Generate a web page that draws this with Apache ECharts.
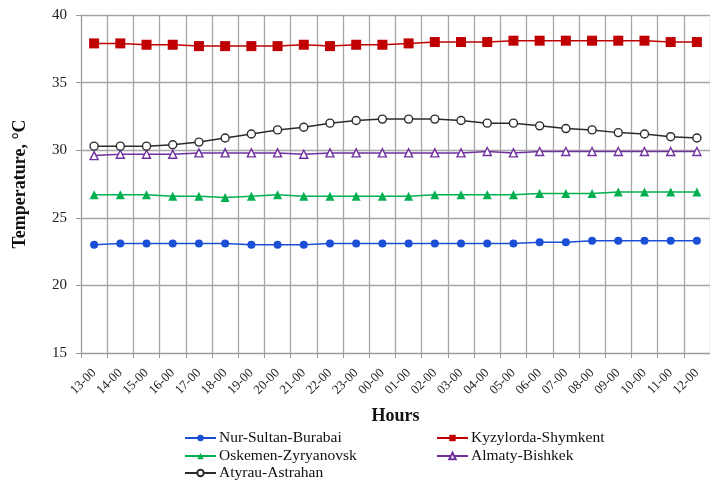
<!DOCTYPE html>
<html>
<head>
<meta charset="utf-8">
<script src="https://cdn.jsdelivr.net/npm/echarts@6/dist/echarts.min.js"></script>
<style>
  html, body { margin: 0; padding: 0; background: #fff; }
  #chart { width: 710px; height: 481px; }
</style>
</head>
<body>
<div id="chart"></div>
<script>
// Hourly temperature along five routes
var hours = ['13-00','14-00','15-00','16-00','17-00','18-00','19-00','20-00','21-00','22-00','23-00','00-00',
             '01-00','02-00','03-00','04-00','05-00','06-00','07-00','08-00','09-00','10-00','11-00','12-00'];

var nurSultan = [23.0, 23.1, 23.1, 23.1, 23.1, 23.1, 23.0, 23.0, 23.0, 23.1, 23.1, 23.1,
                 23.1, 23.1, 23.1, 23.1, 23.1, 23.2, 23.2, 23.3, 23.3, 23.3, 23.3, 23.3];
var kyzylorda = [37.9, 37.9, 37.8, 37.8, 37.7, 37.7, 37.7, 37.7, 37.8, 37.7, 37.8, 37.8,
                 37.9, 38.0, 38.0, 38.0, 38.1, 38.1, 38.1, 38.1, 38.1, 38.1, 38.0, 38.0];
var oskemen = [26.7, 26.7, 26.7, 26.6, 26.6, 26.5, 26.6, 26.7, 26.6, 26.6, 26.6, 26.6,
               26.6, 26.7, 26.7, 26.7, 26.7, 26.8, 26.8, 26.8, 26.9, 26.9, 26.9, 26.9];
var almaty = [29.6, 29.7, 29.7, 29.7, 29.8, 29.8, 29.8, 29.8, 29.7, 29.8, 29.8, 29.8,
              29.8, 29.8, 29.8, 29.9, 29.8, 29.9, 29.9, 29.9, 29.9, 29.9, 29.9, 29.9];
var atyrau = [30.3, 30.3, 30.3, 30.4, 30.6, 30.9, 31.2, 31.5, 31.7, 32.0, 32.2, 32.3,
              32.3, 32.3, 32.2, 32.0, 32.0, 31.8, 31.6, 31.5, 31.3, 31.2, 31.0, 30.9];

var yMin = 15, yMax = 40, yStep = 5;

var FONT = '"Liberation Serif", "Times New Roman", serif';

// One line series; a fill colour gives a hollow marker outlined in the line colour
function line(name, data, color, symbol, size, fill) {
  return {
    name: name,
    type: 'line',
    data: data,
    symbol: symbol,
    symbolSize: size,
    showAllSymbol: true,
    lineStyle: { color: color, width: 1.5 },
    itemStyle: { color: fill || color, borderColor: color, borderWidth: fill ? 1.4 : 0 },
    emphasis: { disabled: true },
    animation: false
  };
}

// Legend laid out as two columns, one single-entry legend per slot
function legendItem(name, left, top) {
  return {
    data: [name], left: left, top: top, padding: 0,
    itemWidth: 31, itemHeight: 8,
    textStyle: { fontFamily: FONT, fontSize: 15.5, color: '#111', padding: [0, 0, 0, -2] }
  };
}

var chart = echarts.init(document.getElementById('chart'), null, { renderer: 'canvas' });
chart.setOption({
  backgroundColor: '#ffffff',
  animation: false,
  textStyle: { fontFamily: FONT },
  grid: { left: 81, top: 15, width: 640, height: 338, containLabel: false },
  xAxis: {
    type: 'category',
    data: hours,
    boundaryGap: true,
    name: 'Hours',
    nameLocation: 'middle',
    nameGap: 54,
    nameTextStyle: { fontFamily: FONT, fontSize: 18, fontWeight: 'bold', color: '#111' },
    axisLine: { lineStyle: { color: '#9a9a9a', width: 1 } },
    axisTick: { show: true, length: 5, interval: 0, lineStyle: { color: '#9a9a9a' } },
    axisLabel: { interval: 0, rotate: 45, fontFamily: FONT, fontSize: 13, color: '#222', margin: 18 },
    splitLine: { show: true, interval: 0, lineStyle: { color: '#a6a6a6', width: 1.3 } }
  },
  yAxis: {
    type: 'value',
    min: yMin, max: yMax, interval: yStep,
    name: 'Temperature, °C',
    nameLocation: 'middle',
    nameGap: 52,
    nameTextStyle: { fontFamily: FONT, fontSize: 18, fontWeight: 'bold', color: '#111' },
    axisLine: { show: true, lineStyle: { color: '#9a9a9a', width: 1 } },
    axisTick: { show: true, length: 5, lineStyle: { color: '#9a9a9a' } },
    axisLabel: { fontFamily: FONT, fontSize: 15, color: '#222', margin: 14 },
    splitLine: { show: true, lineStyle: { color: '#a6a6a6', width: 1.3 } }
  },
  legend: [
    legendItem('Nur-Sultan-Burabai', 184, 430),
    legendItem('Kyzylorda-Shymkent', 436, 430),
    legendItem('Oskemen-Zyryanovsk', 184, 448),
    legendItem('Almaty-Bishkek', 436, 448),
    legendItem('Atyrau-Astrahan', 184, 465)
  ],
  series: [
    line('Nur-Sultan-Burabai', nurSultan, '#1a4fd6', 'circle', 8),
    line('Kyzylorda-Shymkent', kyzylorda, '#c00000', 'rect', 10),
    line('Oskemen-Zyryanovsk', oskemen, '#00b050', 'triangle', 9),
    line('Almaty-Bishkek', almaty, '#7030a0', 'triangle', 8, '#ffffff'),
    line('Atyrau-Astrahan', atyrau, '#2b2b2b', 'circle', 8, '#ffffff')
  ]
});
</script>
</body>
</html>
